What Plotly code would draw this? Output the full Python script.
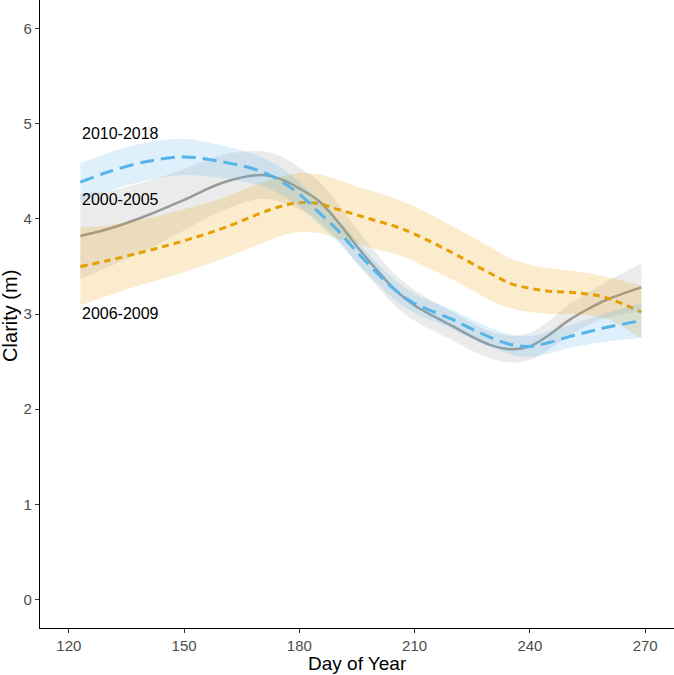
import plotly.graph_objects as go

# Day of year at which the smoothed curves are sampled
days = [123, 130, 140, 150, 160, 170, 175, 180, 185, 190, 195, 200, 205, 210,
        220, 225, 230, 235, 240, 245, 250, 255, 260, 269]

# Smoothed clarity (m) per period
clarity_2000_2005 = [3.82, 3.89, 4.03, 4.20, 4.38, 4.46, 4.42, 4.32, 4.19, 3.97, 3.71, 3.47, 3.25, 3.09,
                     2.87, 2.76, 2.67, 2.63, 2.66, 2.78, 2.93, 3.05, 3.15, 3.28]
clarity_2006_2009 = [3.50, 3.56, 3.66, 3.77, 3.90, 4.06, 4.13, 4.17, 4.16, 4.10, 4.04, 3.98, 3.92, 3.84,
                     3.64, 3.53, 3.42, 3.32, 3.27, 3.24, 3.23, 3.21, 3.17, 3.02]
clarity_2010_2018 = [4.385, 4.49, 4.60, 4.65, 4.60, 4.50, 4.40, 4.26, 4.07, 3.88, 3.65, 3.44, 3.25, 3.11,
                     2.94, 2.84, 2.75, 2.68, 2.66, 2.70, 2.76, 2.81, 2.86, 2.93]

# Half-width of the confidence band per period
ci_2000_2005 = [0.45, 0.40, 0.36, 0.32, 0.29, 0.25, 0.24, 0.22, 0.21, 0.19, 0.18, 0.17, 0.165, 0.16,
                0.15, 0.145, 0.14, 0.14, 0.14, 0.15, 0.16, 0.17, 0.19, 0.25]
ci_2006_2009 = [0.41, 0.37, 0.34, 0.33, 0.32, 0.32, 0.31, 0.31, 0.31, 0.31, 0.30, 0.30, 0.29, 0.29,
                0.28, 0.28, 0.28, 0.26, 0.25, 0.24, 0.23, 0.22, 0.22, 0.28]
ci_2010_2018 = [0.20, 0.20, 0.20, 0.19, 0.17, 0.15, 0.14, 0.13, 0.125, 0.12, 0.115, 0.11, 0.105, 0.10,
                0.10, 0.10, 0.10, 0.105, 0.11, 0.115, 0.12, 0.13, 0.15, 0.18]

period_labels = ["2000-2005", "2006-2009", "2010-2018"]
label_day = 123
label_y = [4.20, 3.01, 4.90]

x_ticks = [120, 150, 180, 210, 240, 270]
y_ticks = [0, 1, 2, 3, 4, 5, 6]

series = [
    (clarity_2000_2005, ci_2000_2005, "#999999", "rgba(153,153,153,0.2)", "solid", 2.5),
    (clarity_2006_2009, ci_2006_2009, "#E69F00", "rgba(230,159,0,0.2)", "7px,5px", 3),
    (clarity_2010_2018, ci_2010_2018, "#56B4E9", "rgba(86,180,233,0.2)", "14px,7px", 3),
]

FONT = "Liberation Sans, Arial, sans-serif"
fig = go.Figure()
for (vals, ci, col, fillc, dash, w), name in zip(series, period_labels):
    upper = [v + c for v, c in zip(vals, ci)]
    lower = [v - c for v, c in zip(vals, ci)]
    fig.add_trace(go.Scatter(x=days, y=upper, mode="lines", line=dict(width=0, shape="spline", smoothing=1.0),
                             hoverinfo="skip", showlegend=False))
    fig.add_trace(go.Scatter(x=days, y=lower, mode="lines", line=dict(width=0, shape="spline", smoothing=1.0),
                             fill="tonexty", fillcolor=fillc, hoverinfo="skip", showlegend=False))
    fig.add_trace(go.Scatter(x=days, y=vals, mode="lines", name=name,
                             line=dict(color=col, width=w, dash=dash, shape="spline", smoothing=1.0),
                             showlegend=False))

for name, yv in zip(period_labels, label_y):
    fig.add_annotation(x=label_day, y=yv, text=name, showarrow=False, xanchor="left", yanchor="middle",
                       font=dict(family=FONT, size=16, color="black"))

fig.add_annotation(x=0.5, y=0, xref="paper", yref="paper", text="Day of Year", showarrow=False,
                   xanchor="center", yanchor="middle", yshift=-35, font=dict(family=FONT, size=19, color="black"))
fig.add_annotation(x=0, y=0.497, xref="paper", yref="paper", text="Clarity (m)", showarrow=False, textangle=-90,
                   xanchor="center", yanchor="middle", xshift=-30, font=dict(family=FONT, size=20, color="black"))

axis_common = dict(showline=True, linecolor="black", linewidth=1.3, ticks="outside", ticklen=4, tickwidth=1.1,
                   tickcolor="#333333", showgrid=False, zeroline=False, automargin=False,
                   tickfont=dict(family=FONT, size=15, color="#4D4D4D"))
fig.update_xaxes(range=[112.5, 277.5], tickvals=x_ticks, **axis_common)
fig.update_yaxes(range=[-0.3, 6.3], tickvals=y_ticks, **axis_common)

fig.update_layout(width=674, height=675, template="none", plot_bgcolor="white", paper_bgcolor="white",
                  margin=dict(l=40, r=0, t=0, b=47), showlegend=False, hovermode=False)
fig.write_html("out.html", config={"displayModeBar": False},
               post_script="document.body.style.margin='0';document.body.style.overflow='hidden';")
